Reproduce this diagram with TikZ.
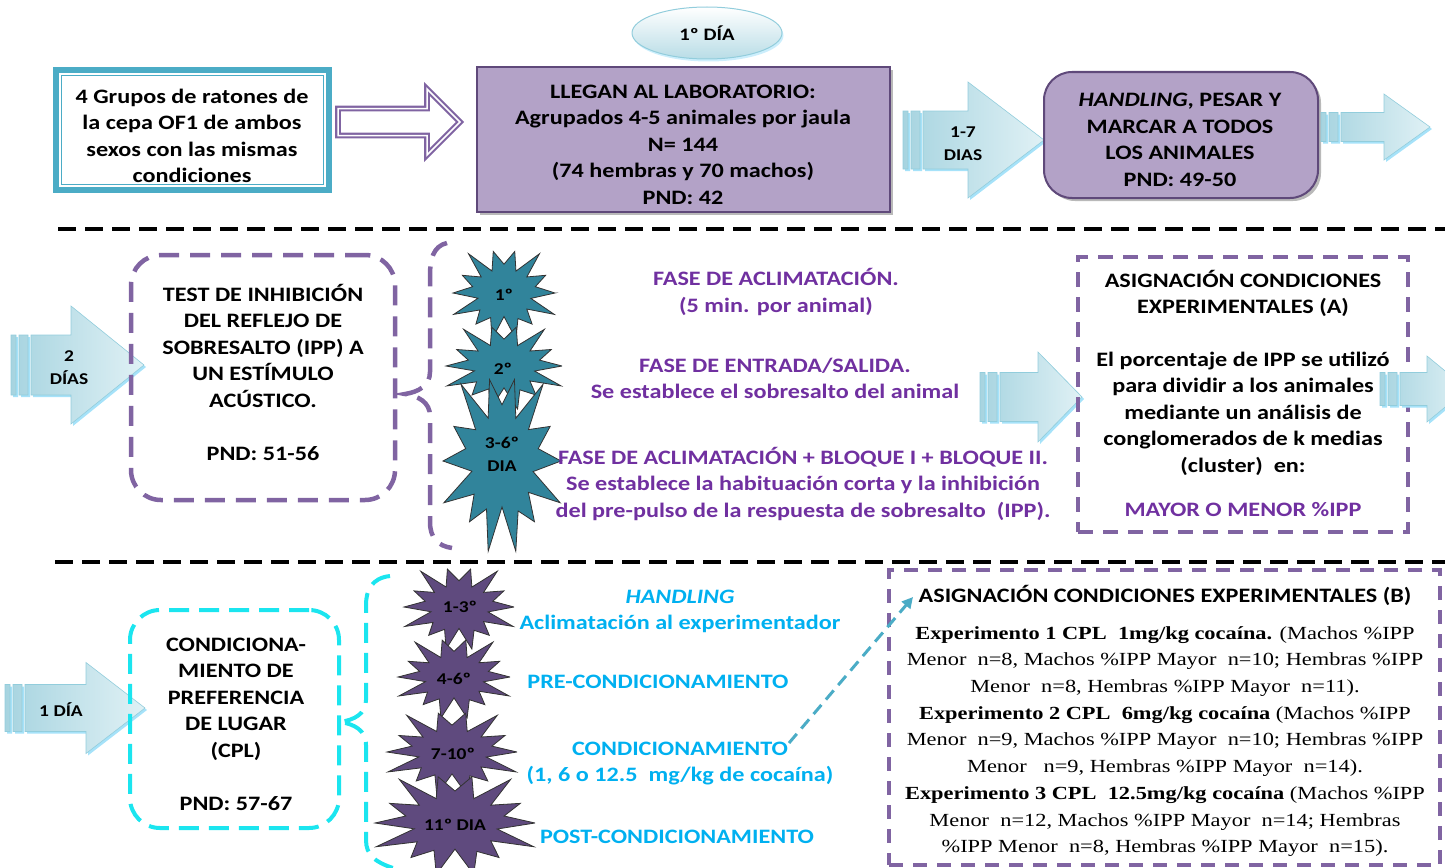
\documentclass[tikz,border=0pt]{standalone}
\usepackage{fontspec}
\setmainfont{Carlito}[FakeStretch=1.18]
\newfontfamily\timesfont{Liberation Serif}[FakeStretch=1.21]
\usetikzlibrary{shapes.geometric,shadows,calc,arrows.meta}

\definecolor{lavfill}{HTML}{B3A2C7}
\definecolor{lavedge}{HTML}{5F497A}
\definecolor{purpdash}{HTML}{8064A2}
\definecolor{tealedge}{HTML}{4BACC6}
\definecolor{arrowA}{HTML}{A7D4E0}
\definecolor{arrowB}{HTML}{E0F1F5}
\definecolor{arrowedge}{HTML}{92CDDC}
\definecolor{starteal}{HTML}{31849B}
\definecolor{starpurp}{HTML}{5F4A7E}
\definecolor{txtpurp}{HTML}{7030A0}
\definecolor{txtcyan}{HTML}{00B0F0}
\definecolor{cpledge}{HTML}{1BE5EF}

% block arrow with two stripes at the tail
\newcommand{\arrowpath}[6]{(#1,#4-#5) -- (#2,#4-#5) -- (#2,#4-#6) -- (#3,#4) -- (#2,#4+#6) -- (#2,#4+#5) -- (#1,#4+#5) -- cycle (#1-20,#4-#5) rectangle (#1-15,#4+#5) (#1-12,#4-#5) rectangle (#1-3,#4+#5)}
\newcommand{\dayarrow}[6]{%
  \fill[arrowglow] \arrowpath{#1+2}{#2+2}{#3+2}{#4+2}{#5}{#6};
  \path[arrowbody] \arrowpath{#1}{#2}{#3}{#4}{#5}{#6};}
% star burst
\newcommand{\burst}[4]{%
  \path[#1, shift={(#2)}] (#3,0)
    \foreach \k [evaluate=\k as \ta using {(\k-0.5)*25.7143},
                 evaluate=\k as \tb using {\k*25.7143},
                 evaluate=\k as \fa using {0.58+0.06*cos(\k*131)},
                 evaluate=\k as \fb using {1+0.12*sin(\k*128.5714)}] in {1,...,14}
    { -- ({\fa*#3*cos(\ta)},{\fa*#4*sin(\ta)}) -- ({\fb*#3*cos(\tb)},{\fb*#4*sin(\tb)}) } -- cycle;}

\begin{document}
\begin{tikzpicture}[x=1pt, y=-1pt,
  txt/.style = {font=\bfseries\fontsize{20.5}{26.5}\selectfont, align=center, inner sep=0pt},
  small/.style = {font=\bfseries\fontsize{16.5}{23}\selectfont, align=center, inner sep=0pt},
  serif/.style = {font=\timesfont\fontsize{18.5}{26.7}\selectfont, align=center, inner sep=0pt},
  purptxt/.style = {txt, text=txtpurp},
  cyantxt/.style = {txt, text=txtcyan},
  lavbox/.style = {draw=lavedge, fill=lavfill, line width=1.5pt, outer sep=0pt, inner sep=0pt,
    drop shadow={shadow xshift=3pt, shadow yshift=-3pt, fill=black!55}},
  dashbox/.style = {draw=purpdash, line width=4pt, dash pattern=on 15pt off 10pt, outer sep=0pt, inner sep=0pt},
  bracket/.style = {draw=purpdash, line width=4.5pt, dash pattern=on 20pt off 11pt},
  sepline/.style = {line width=3.5pt, dash pattern=on 18pt off 9pt},
  arrowbody/.style = {left color=arrowA, right color=arrowB, draw=arrowedge, line width=0.6pt},
  arrowglow/.style = {fill=cyan!35},
  tealstar/.style = {fill=starteal, draw=black!80, line width=0.8pt},
  purpstar/.style = {fill=starpurp, draw=black!80, line width=0.8pt},
  linkarrow/.style = {draw=tealedge, line width=3pt, dash pattern=on 12pt off 7pt,
    -{Triangle[length=11pt,width=11pt]}},
  ]
  \useasboundingbox (0,0) rectangle (1445,867);
  \clip (0,0) rectangle (1445,867);

  % first row
  \node[ellipse, minimum width=150pt, minimum height=52pt, top color=white, bottom color=arrowA!80,
    draw=arrowedge, line width=1pt, drop shadow={shadow xshift=1.5pt, shadow yshift=-2.5pt, fill=cyan!40},
    font=\bfseries\fontsize{17.5}{20}\selectfont] (dia1) at (707,33) {1º DÍA};

  \node[draw=tealedge, line width=6pt, minimum width=273pt, minimum height=120pt, outer sep=0pt] (grupos) at (192.5,130) {};
  \draw[tealedge, line width=1.3pt] ($(grupos.north west)+(5.3,5.3)$) rectangle ($(grupos.south east)-(5.3,5.3)$);
  \node[txt] (grupostxt) at (192,136) {4 Grupos de ratones de\\la cepa OF1 de ambos\\sexos con las mismas\\condiciones};

  \draw[purpdash, line width=2.2pt, double=white, double distance=1.5pt, fill=white]
    (338,108.5) -- (427,108.5) -- (427,89) -- (460,122) -- (427,155) -- (427,135.5) -- (338,135.5) -- cycle;

  \node[lavbox, minimum width=413pt, minimum height=145pt] (llegan) at (683.5,139.5) {};
  \node[txt] (llegantxt) at (683,144.5) {LLEGAN AL LABORATORIO:\\Agrupados 4-5 animales por jaula\\N= 144\\(74 hembras y 70 machos)\\PND: 42};

  \dayarrow{923}{968}{1044}{140}{29}{58}
  \node[small] (dias17) at (963,143.5) {1-7\\DIAS};

  \node[lavbox, rounded corners=28pt, line width=2pt, minimum width=274pt, minimum height=126pt] (handling) at (1181,135) {};
  \node[txt] (handlingtxt) at (1180,140) {\textit{HANDLING}, PESAR Y\\MARCAR A TODOS\\LOS ANIMALES\\PND: 49-50};

  \dayarrow{1341}{1384}{1430}{127}{14.5}{33}

  \draw[sepline] (58,229) -- (1445,229);
  \draw[sepline] (55,562) -- (1445,562);

  % second row
  \dayarrow{31}{71}{144}{365}{30}{59}
  \node[small] (dias2) at (69,367.5) {2\\DÍAS};

  \node[dashbox, rounded corners=30pt, line width=4.5pt, dash pattern=on 20pt off 11pt,
    minimum width=264pt, minimum height=245pt] (ipp) at (263,377.5) {};
  \node[txt] (ipptxt) at (263,372) {TEST DE INHIBICIÓN\\DEL REFLEJO DE\\SOBRESALTO (IPP) A\\UN ESTÍMULO\\ACÚSTICO.\\[26.5pt]PND: 51-56};

  \draw[bracket] (447,243) .. controls (433,246) and (430,260) .. (430,275) -- (430,372)
    .. controls (430,386) and (418,392) .. (405,394) .. controls (418,396) and (430,402) .. (430,416)
    -- (430,522) .. controls (430,538) and (438,546) .. (452,548);

  \burst{tealstar}{504,293}{51}{45}
  \burst{tealstar}{504,366}{58}{42}
  \burst{tealstar}{502,461}{59}{88}
  \node[small] (ipp1) at (504,295) {1º};
  \node[small] (ipp2) at (503,369) {2º};
  \node[small] (ipp36) at (502,454) {3-6º\\DIA};

  \node[purptxt] (fase1) at (776,292) {FASE DE ACLIMATACIÓN.\\(5 min. por animal)};
  \node[purptxt] (fase2) at (775,378.5) {FASE DE ENTRADA/SALIDA.\\Se establece el sobresalto del animal};
  \node[purptxt] (fase3) at (803,483.5) {FASE DE ACLIMATACIÓN + BLOQUE I + BLOQUE II.\\Se establece la habituación corta y la inhibición\\del pre-pulso de la respuesta de sobresalto\ \ (IPP).};

  \dayarrow{1000}{1038}{1082}{397}{24.5}{45}

  \node[dashbox, minimum width=330pt, minimum height=275pt] (asigA) at (1243,394.5) {};
  \node[txt] (asigAtit) at (1243,293.5) {ASIGNACIÓN CONDICIONES\\EXPERIMENTALES (A)};
  \node[txt] (asigAtxt) at (1243,413.5) {El porcentaje de IPP se utilizó\\para dividir a los animales\\mediante un análisis de\\conglomerados de k medias\\(cluster)\ \ en:};
  \node[purptxt] (asigAres) at (1243,510) {MAYOR O MENOR \%IPP};

  \dayarrow{1400}{1427}{1467}{389}{16.5}{33}

  % third row
  \dayarrow{25}{86}{145}{708}{23.5}{45.5}
  \node[small] (dia1b) at (61,710) {1 DÍA};

  \node[dashbox, draw=cpledge, rounded corners=30pt, dash pattern=on 20pt off 10pt,
    minimum width=209pt, minimum height=218pt] (cpl) at (234.5,719) {};
  \node[txt] (cpltxt) at (236,724) {CONDICIONA-\\MIENTO DE\\PREFERENCIA\\DE LUGAR\\(CPL)\\[26.5pt]PND: 57-67};

  \draw[bracket, draw=cpledge, line width=4pt, dash pattern=on 20pt off 10pt]
    (390,576) .. controls (372,578) and (366,590) .. (366,605) -- (366,700)
    .. controls (366,714) and (354,720) .. (340,722) .. controls (354,724) and (366,730) .. (366,745)
    -- (366,840) .. controls (366,855) and (375,862) .. (393,868);

  \burst{purpstar}{459,607}{55}{41}
  \burst{purpstar}{454,677}{56}{40}
  \burst{purpstar}{452,752}{65}{42}
  \burst{purpstar}{455,823}{80}{50}
  \node[small] (cpl13) at (460,607) {1-3º};
  \node[small] (cpl46) at (454,679) {4-6º};
  \node[small] (cpl710) at (453,754) {7-10º};
  \node[small] (cpl11) at (455,825) {11º DIA};

  \node[cyantxt] (handl) at (680,611.5) {\textit{HANDLING}\\Aclimatación al experimentador};
  \node[cyantxt] (precond) at (658,682) {PRE-CONDICIONAMIENTO};
  \node[cyantxt] (cond) at (680,763.5) {CONDICIONAMIENTO\\(1, 6 o 12.5\ \ mg/kg de cocaína)};
  \node[cyantxt] (postcond) at (677,837) {POST-CONDICIONAMIENTO};

  \node[dashbox, line width=3.5pt, dash pattern=on 14pt off 10pt, minimum width=551pt, minimum height=295pt] (asigB) at (1164.5,717.5) {};
  \node[txt] (asigBtit) at (1165,595) {ASIGNACIÓN CONDICIONES EXPERIMENTALES (B)};
  \node[serif] (asigBtxt) at (1165,741.5) {\textbf{Experimento 1 CPL\ \ 1mg/kg cocaína.} (Machos \%IPP\\
    Menor\ \ n=8, Machos \%IPP Mayor\ \ n=10; Hembras \%IPP\\
    Menor\ \ n=8, Hembras \%IPP Mayor\ \ n=11).\\
    \textbf{Experimento 2 CPL\ \ 6mg/kg cocaína} (Machos \%IPP\\
    Menor\ \ n=9, Machos \%IPP Mayor\ \ n=10; Hembras \%IPP\\
    Menor\ \ \ n=9, Hembras \%IPP Mayor\ \ n=14).\\
    \textbf{Experimento 3 CPL\ \ 12.5mg/kg cocaína} (Machos \%IPP\\
    Menor\ \ n=12, Machos \%IPP Mayor\ \ n=14; Hembras\\
    \%IPP Menor\ \ n=8, Hembras \%IPP Mayor\ \ n=15).};

  \coordinate (condend) at (789,743);
  \coordinate (asigBin) at (913,597);
  \draw[linkarrow] (condend) -- (asigBin);

\end{tikzpicture}
\end{document}
